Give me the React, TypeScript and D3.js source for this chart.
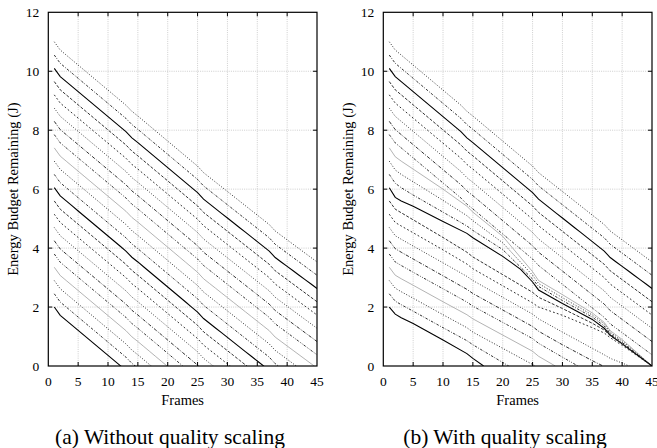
import React from 'react';
import * as d3 from 'd3';

const W = 657;
const H = 448;

// ---------- data ----------
const xTicks = [0, 5, 10, 15, 20, 25, 30, 35, 40, 45];
const yTicks = [0, 2, 4, 6, 8, 10, 12];
const frames = [1,2,3,4,5,6,7,8,9,10,11,12,13,14,15,16,17,18,19,20,21,22,23,24,25,26,27,28,29,30,31,32,33,34,35,36,37,38,39,40,41,42,43,44,45];

// starting energy budgets (J), top line first
const budgets = [11, 10.55, 10.1, 9.65, 9.2, 8.75, 8.3, 7.85, 7.4, 6.95, 6.5, 6.05, 5.6, 5.15, 4.7, 4.25, 3.8, 3.35, 2.9, 2.45, 2.0];

// cumulative energy consumed at full quality after each frame (J)
const consumedFull = [0, 0.28, 0.45, 0.62, 0.79, 0.96, 1.13, 1.30, 1.47, 1.64, 1.81, 1.98, 2.15, 2.36, 2.52, 2.69, 2.86, 3.03, 3.20, 3.37, 3.54, 3.71, 3.88, 4.05, 4.22, 4.44, 4.60, 4.76, 4.92, 5.08, 5.24, 5.40, 5.56, 5.72, 5.88, 6.04, 6.20, 6.42, 6.57, 6.72, 6.87, 7.02, 7.17, 7.32, 7.47];

// panel (b): budgets that need quality scaling, [frame, remaining]
const scaled740: [number, number][] = [[1,7.4],[2,7.1],[3,6.95],[5,6.68],[10,6.0],[14,5.42],[15,5.22],[20,4.4],[25,3.2],[26,2.9],[30,2.42],[35,1.8],[37,1.48],[38,1.2],[40,0.9],[45,0]];
const scaled695: [number, number][] = [[1,6.95],[2,6.65],[3,6.5],[5,6.25],[10,5.62],[14,5.1],[15,4.93],[20,4.18],[25,3.08],[26,2.8],[30,2.32],[35,1.73],[37,1.43],[38,1.15],[40,0.85],[45,0]];
const scaled650: [number, number][] = [[1,6.5],[2,6.2],[3,6.05],[5,5.8],[10,5.22],[14,4.75],[15,4.6],[20,3.95],[25,2.95],[26,2.7],[30,2.22],[35,1.66],[37,1.36],[38,1.1],[40,0.8],[45,0]];
const scaled605: [number, number][] = [[1,6.05],[2,5.72],[3,5.6],[5,5.42],[10,4.9],[14,4.5],[15,4.35],[20,3.72],[23,3.28],[25,2.85],[26,2.58],[30,2.12],[35,1.58],[37,1.28],[38,1.05],[40,0.75],[45,0]];
const scaled560: [number, number][] = [[1,5.6],[2,5.32],[3,5.2],[5,4.96],[10,4.36],[14,3.86],[15,3.7],[20,3.1],[25,2.5],[26,2.33],[30,1.95],[35,1.45],[37,1.22],[38,1.03],[40,0.76],[45,0]];
const scaled515: [number, number][] = [[1,5.15],[2,4.87],[3,4.75],[5,4.52],[10,3.94],[14,3.46],[15,3.3],[20,2.72],[25,2.14],[26,2.0],[30,1.72],[35,1.3],[37,1.12],[38,0.96],[40,0.7],[45,0]];
const scaled470: [number, number][] = [[1,4.7],[2,4.42],[3,4.3],[5,4.07],[10,3.5],[14,3.04],[15,2.9],[20,2.33],[25,1.76],[26,1.6],[30,1.15],[35,0.6],[37,0.38],[38,0.26],[40,0.1],[41.2,0]];
const scaled425: [number, number][] = [[1,4.25],[2,3.98],[3,3.86],[5,3.63],[10,3.06],[14,2.6],[15,2.46],[20,1.9],[25,1.34],[26,1.18],[30,0.72],[35,0.18],[36.8,0]];
const scaled380: [number, number][] = [[1,3.8],[2,3.53],[3,3.41],[5,3.18],[10,2.62],[14,2.17],[15,2.03],[20,1.48],[25,0.93],[26,0.77],[30,0.3],[32.6,0]];
const scaled335: [number, number][] = [[1,3.35],[2,3.08],[3,2.96],[5,2.74],[10,2.18],[14,1.74],[15,1.6],[20,1.05],[25,0.5],[26,0.33],[28.8,0]];
const scaled290: [number, number][] = [[1,2.9],[2,2.64],[3,2.52],[5,2.3],[10,1.74],[14,1.3],[15,1.15],[20,0.6],[25,0.05],[25.4,0]];
const scaled245: [number, number][] = [[1,2.45],[2,2.2],[3,2.08],[5,1.86],[10,1.3],[14,0.86],[15,0.72],[20,0.12],[21,0]];
const scaled200: [number, number][] = [[1,2.0],[2,1.76],[3,1.64],[5,1.44],[10,0.88],[14,0.42],[15,0.26],[16.8,0]];

const scaledByBudget: Record<string, [number, number][]> = {
  '7.4': scaled740, '6.95': scaled695, '6.5': scaled650, '6.05': scaled605,
  '5.6': scaled560, '5.15': scaled515, '4.7': scaled470, '4.25': scaled425,
  '3.8': scaled380, '3.35': scaled335, '2.9': scaled290, '2.45': scaled245, '2': scaled200,
};

// ---------- styles (gnuplot-like line types, cycle of 9 from top line) ----------
const lineStyles = [
  { dash: '1,1.8', color: '#1a1a1a', w: 0.9 },
  { dash: '2.5,1.5,0.8,1.5', color: '#1a1a1a', w: 0.9 },
  { dash: null, color: '#000', w: 1.1 },
  { dash: '3,1.6', color: '#1a1a1a', w: 0.9 },
  { dash: '1.8,2.2', color: '#1a1a1a', w: 0.9 },
  { dash: '0.9,1.8', color: '#1a1a1a', w: 0.9 },
  { dash: '3.5,1.5,0.9,1.5', color: '#1a1a1a', w: 0.9 },
  { dash: '2.5,1.5,0.8,1.5,0.8,1.5', color: '#1a1a1a', w: 0.9 },
  { dash: null, color: '#a0a0a0', w: 0.8 },
];

const TOP = 12.3;
const BOTTOM = 366;
const FONT = 'Liberation Serif';

function fullQuality(b: number): [number, number][] {
  return frames.map((f, i) => [f, b - consumedFull[i]] as [number, number]);
}

function Panel({ id, left, right, scaled, caption, captionX }: { id: string; left: number; right: number; scaled: boolean; caption: string; captionX: number }) {
  const x = d3.scaleLinear().domain([0, 45]).range([left, right]);
  const y = d3.scaleLinear().domain([0, 12]).range([BOTTOM, TOP]);
  const line = d3.line<[number, number]>().x(d => x(d[0])).y(d => y(d[1]));
  const tl = 4;
  return (
    <g>
      <defs>
        <clipPath id={id}>
          <rect x={left} y={TOP} width={right - left} height={BOTTOM - TOP} />
        </clipPath>
      </defs>
      {xTicks.slice(1, -1).map(t => (
        <line key={'gx' + t} x1={x(t)} x2={x(t)} y1={TOP} y2={BOTTOM} stroke="#b8b8b8" strokeWidth={0.7} strokeDasharray="1,1.2" />
      ))}
      {yTicks.slice(1, -1).map(t => (
        <line key={'gy' + t} x1={left} x2={right} y1={y(t)} y2={y(t)} stroke="#b8b8b8" strokeWidth={0.7} strokeDasharray="1,1.2" />
      ))}
      <g clipPath={`url(#${id})`}>
        {budgets.map((b, k) => {
          const st = lineStyles[k % 9];
          const pts = scaled && scaledByBudget[String(b)] ? scaledByBudget[String(b)] : fullQuality(b);
          return (
            <path key={'s' + k} d={line(pts) || ''} fill="none" stroke={st.color} strokeWidth={st.w}
              strokeDasharray={st.dash || undefined} />
          );
        })}
      </g>
      {xTicks.slice(1, -1).map(t => (
        <g key={'tx' + t}>
          <line x1={x(t)} x2={x(t)} y1={BOTTOM} y2={BOTTOM - tl} stroke="#000" strokeWidth={1} />
          <line x1={x(t)} x2={x(t)} y1={TOP} y2={TOP + tl} stroke="#000" strokeWidth={1} />
        </g>
      ))}
      {yTicks.slice(1, -1).map(t => (
        <g key={'ty' + t}>
          <line x1={left} x2={left + tl} y1={y(t)} y2={y(t)} stroke="#000" strokeWidth={1} />
          <line x1={right} x2={right - tl} y1={y(t)} y2={y(t)} stroke="#000" strokeWidth={1} />
        </g>
      ))}
      <rect x={left} y={TOP} width={right - left} height={BOTTOM - TOP} fill="none" stroke="#000" strokeWidth={1.2} />
      {xTicks.map(t => (
        <text key={'lx' + t} x={x(t)} y={BOTTOM + 20} textAnchor="middle" fontSize={13.5} fontFamily={FONT} fill="#000">{t}</text>
      ))}
      {yTicks.map(t => (
        <text key={'ly' + t} x={left - 9} y={y(t)} dy="0.35em" textAnchor="end" fontSize={13.5} fontFamily={FONT} fill="#000">{t}</text>
      ))}
      <text x={(left + right) / 2} y={405} textAnchor="middle" fontSize={14.5} fontFamily={FONT} fill="#000">Frames</text>
      <text transform={`translate(${left - 30},${(TOP + BOTTOM) / 2}) rotate(-90)`} textAnchor="middle" fontSize={14.5} fontFamily={FONT} fill="#000">Energy Budget Remaining (J)</text>
      <text x={captionX} y={444} textAnchor="middle" fontSize={21.5} fontFamily={FONT} fill="#000">{caption}</text>
    </g>
  );
}

export default function App() {
  return (
    <svg width={W} height={H} style={{ position: 'absolute', left: 0, top: 0, background: '#fff' }}>
      <rect x={0} y={0} width={W} height={H} fill="#fff" />
      <Panel id="clipA" left={48.3} right={317} scaled={false} caption="(a) Without quality scaling" captionX={170} />
      <Panel id="clipB" left={383.3} right={652} scaled={true} caption="(b) With quality scaling" captionX={505} />
    </svg>
  );
}
